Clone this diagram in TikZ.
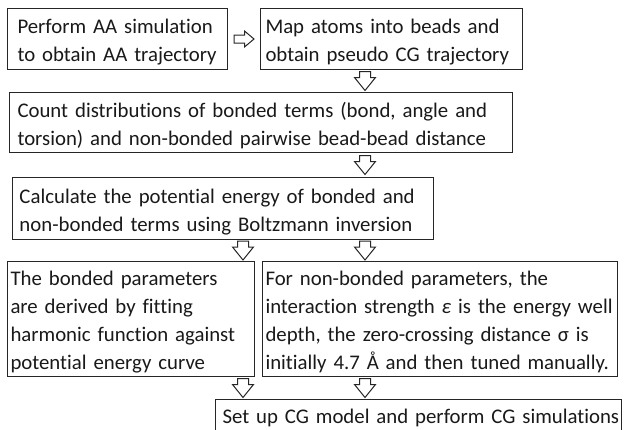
\documentclass[tikz,border=0pt]{standalone}
\usepackage{fontspec}
\setmainfont{Carlito}[Ligatures=NoCommon]
\usetikzlibrary{calc}
\newcommand\topstr{\rule{0pt}{24pt}}
\newcommand\botstr{\rule[-7pt]{0pt}{7pt}}
\newcommand\mylinex[1]{\mbox{#1}}
\newcommand\dnarrowat[2]{\draw[arrs,shift={#2}] (-5.5,-9.5) -- (5.5,-9.5) -- (5.5,-3.5) -- (10.5,-3.5) -- (0,9.5) -- (-10.5,-3.5) -- (-5.5,-3.5) -- cycle; \coordinate (#1) at #2;}
\begin{document}
\begin{tikzpicture}[x=1pt,y=-1pt,
  box/.style={draw=black!85, line width=1pt, fill=white, anchor=north west, align=left,
    inner ysep=0pt, font=\fontsize{20.8}{28}\selectfont, text=black!90},
  arrs/.style={draw=black!85, line width=1pt, fill=white, line join=miter}]
\useasboundingbox (0,0) rectangle (630,429);
\clip (0,0) rectangle (630,429);
\node[box, inner xsep=10pt, text width=200pt, minimum height=61pt] (b1) at (7,8)
  {\topstr\mylinex{Perform AA simulation}\\\mylinex{to obtain AA trajectory}\botstr};
\node[box, inner xsep=5pt, text width=252pt, minimum height=61pt] (b2) at (260,8)
  {\topstr\mylinex{Map atoms into beads and}\\\mylinex{obtain pseudo CG trajectory}\botstr};
\node[box, inner xsep=8pt, text width=487pt, minimum height=60pt] (b3) at (9,92)
  {\topstr\mylinex{Count distributions of bonded terms (bond, angle and}\\\mylinex{torsion) and non-bonded pairwise bead-bead distance}\botstr};
\node[box, inner xsep=7pt, text width=407pt, minimum height=62pt] (b4) at (12,177)
  {\topstr\mylinex{Calculate the potential energy of bonded and}\\\mylinex{non-bonded terms using Boltzmann inversion}\botstr};
\node[box, inner xsep=3pt, text width=241pt, minimum height=115pt] (b5) at (7,261)
  {\topstr\mylinex{The bonded parameters}\\\mylinex{are derived by fitting}\\\mylinex{harmonic function against}\\\mylinex{potential energy curve}\botstr};
\node[box, inner xsep=3pt, text width=349pt, minimum height=113pt] (b6) at (262,261)
  {\topstr\mylinex{For non-bonded parameters, the}\\\mylinex{interaction strength \textit{ε} is the energy well}\\\mylinex{depth, the zero-crossing distance σ is}\\\mylinex{initially 4.7 Å and then tuned manually.}\botstr};
\node[box, inner xsep=7pt, text width=392pt] (b7) at (215,399)
  {\topstr\mylinex{Set up CG model and perform CG simulations}\rule[-10pt]{0pt}{10pt}};
\coordinate (ax) at (365,0);
\coordinate (bx) at (243,0);
\path ($(b1.east)!0.5!(b2.west)$) coordinate (m12);
\draw[arrs,shift={(m12)}] (-10,-4) -- (0.5,-4) -- (0.5,-8) -- (10,0) -- (0.5,8) -- (0.5,4) -- (-10,4) -- cycle;
\path ($(b2.south)!0.5!(b3.north)$) coordinate (m23);
\path ($(b3.south)!0.5!(b4.north)$) coordinate (m34);
\path ($(b4.south)!0.5!(b5.north)$) coordinate (m45);
\path ($(b4.south)!0.5!(b6.north)$) coordinate (m46);
\path ($(b5.south)!0.5!(b7.north)$) coordinate (m57);
\path ($(b6.south)!0.5!(b7.north)$) coordinate (m67);
\dnarrowat{a23}{(m23 -| ax)}
\dnarrowat{a34}{(m34 -| ax)}
\dnarrowat{a45}{(m45 -| bx)}
\dnarrowat{a46}{(m46 -| ax)}
\dnarrowat{a57}{(m57 -| bx)}
\dnarrowat{a67}{(m67 -| ax)}
\end{tikzpicture}
\end{document}
